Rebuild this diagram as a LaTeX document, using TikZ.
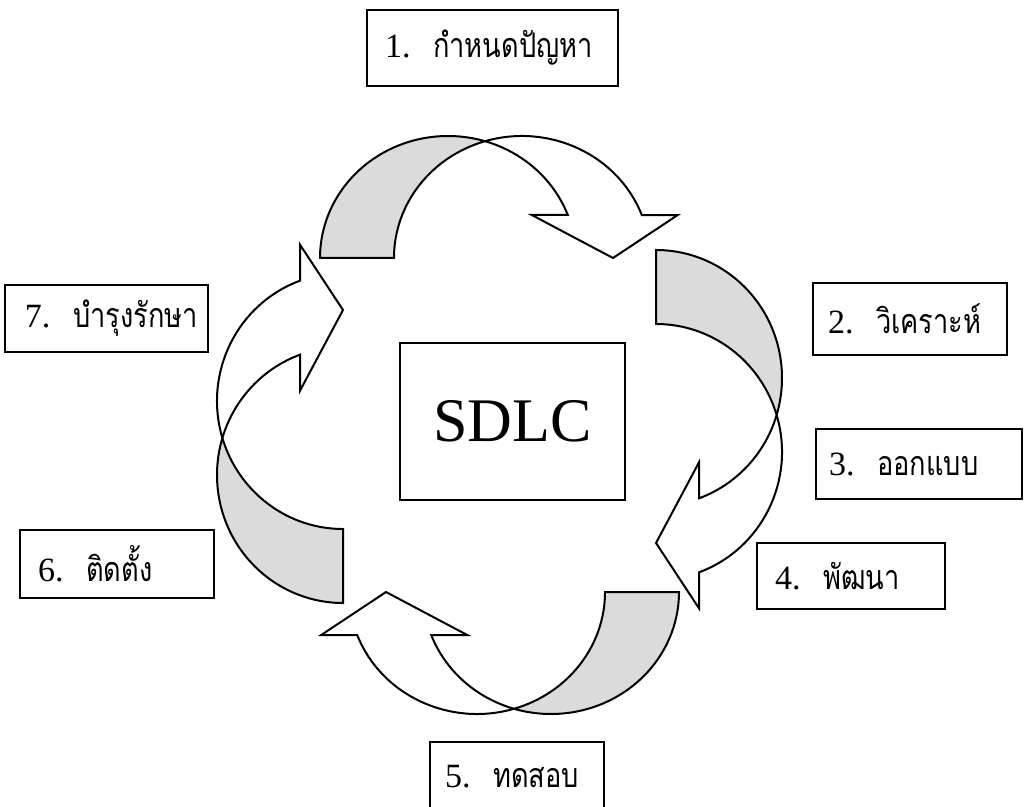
\documentclass[tikz,border=0pt]{standalone}
\usepackage{fontspec}
\setmainfont{Liberation Serif}
\newfontfamily\thaifont[Script=Thai, FakeStretch=0.8]{Loma}

% One curved arrow of the cycle: a band swept along two equal ellipses
% (a = 128, thickness 74), whose back face is shaded and whose front face
% ends in an arrowhead.  #1,#2 = foot centre line origin, #3 = rotation,
% #4 = vertical radius of the ellipses.
\newcommand\cyclearrow[4]{%
  \begin{scope}[shift={(#1,#2)}, rotate=#3]
    \pgfmathsetmacro\arrRb{#4}
    \pgfmathsetmacro\arrTe{asin(43/\arrRb)}
    \pgfmathsetmacro\arrWi{\arrRb*sin(73.2)}
    \pgfmathsetmacro\arrCe{128*cos(\arrTe)}
    \filldraw[backface] (-128,0)
      arc[start angle=180, end angle=73.2, x radius=128, y radius=\arrRb]
      arc[start angle=106.8, end angle=180, x radius=128, y radius=\arrRb]
      -- cycle;
    \filldraw[frontface] (37,\arrWi)
      arc[start angle=106.8, end angle=\arrTe, x radius=128, y radius=\arrRb]
      -- ++(36,0) -- (165,0) -- (\arrCe-36,43) -- (\arrCe,43)
      arc[start angle=\arrTe, end angle=73.2, x radius=128, y radius=\arrRb]
      -- cycle;
  \end{scope}}

% label text of one phase: number, then the Thai name
\newcommand\phaselabel[2]{\mbox{#1.\ \ {\thaifont #2}}}

\begin{document}
\begin{tikzpicture}[x=0.5pt, y=0.5pt,
  outline/.style={draw=black, line width=1pt, line join=miter},
  backface/.style={outline, fill=black!14},
  frontface/.style={outline, fill=white},
  stepbox/.style={draw=black, line width=0.9pt, rectangle, inner ysep=0pt,
    align=left, font=\fontsize{17}{20}\selectfont},
  centrebox/.style={draw=black, line width=0.9pt, rectangle,
    font=\fontsize{31}{36}\selectfont},
]
\useasboundingbox (0,0) rectangle (1027,-807);
\clip (0,0) rectangle (1027,-807);
\fill[white] (0,0) rectangle (1027,-807);

% the four curved arrows of the cycle
\cyclearrow{448}{-258}{0}{122}
\cyclearrow{656}{-378}{-90}{126}
\cyclearrow{551}{-592}{180}{122}
\cyclearrow{343}{-475}{90}{126}

% centre label
\node[centrebox, minimum width=112.5pt, minimum height=78.5pt] (sdlc) at (512.5,-421.5) {SDLC};

% phase labels
\node[stepbox, minimum width=125.5pt, minimum height=38pt, inner xsep=9pt, text width=107.5pt]
  (p1) at (492.5,-48) {\phaselabel{1}{กำหนดปัญหา}};
\node[stepbox, minimum width=97pt, minimum height=36pt, inner xsep=7.5pt, text width=82pt]
  (p2) at (910,-319) {\phaselabel{2}{วิเคราะห์}};
\node[stepbox, minimum width=103pt, minimum height=35pt, inner xsep=6.5pt, text width=90pt]
  (p3) at (919,-464) {\phaselabel{3}{ออกแบบ}};
\node[stepbox, minimum width=94pt, minimum height=33pt, inner xsep=9pt, text width=76pt]
  (p4) at (851,-576) {\phaselabel{4}{พัฒนา}};
\node[stepbox, minimum width=87pt, minimum height=35pt, inner xsep=7.5pt, text width=72pt]
  (p5) at (517,-777) {\phaselabel{5}{ทดสอบ}};
\node[stepbox, minimum width=97pt, minimum height=34pt, inner xsep=9pt, text width=79pt]
  (p6) at (117,-564) {\phaselabel{6}{ติดตั้ง}};
\node[stepbox, minimum width=101.5pt, minimum height=33.5pt, inner xsep=10pt, text width=81.5pt]
  (p7) at (106.5,-318.5) {\phaselabel{7}{บำรุงรักษา}};
\end{tikzpicture}
\end{document}
